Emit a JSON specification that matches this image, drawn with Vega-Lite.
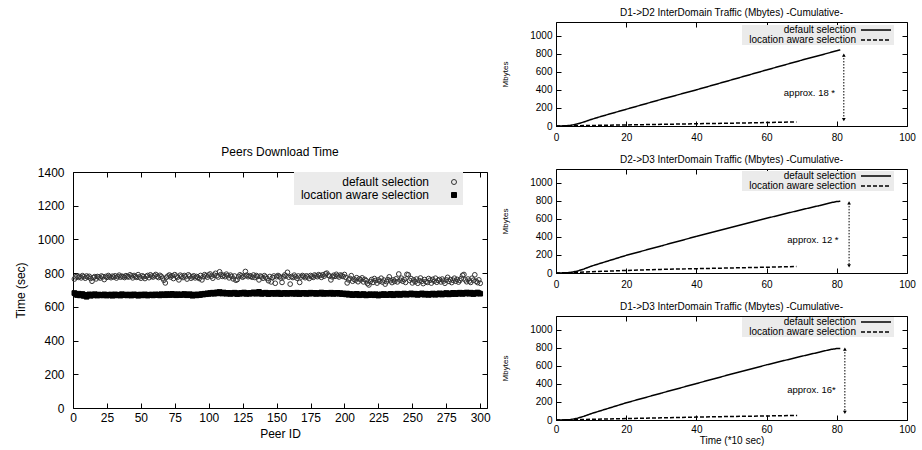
{
"$schema": "https://vega.github.io/schema/vega-lite/v6.json",
"background": "white",
"padding": {"left": 13, "top": 7, "right": 4, "bottom": 2},
"config": {
  "font": "Liberation Sans",
  "view": {"stroke": "#000", "strokeWidth": 1},
  "axis": {"domain": false, "grid": false, "tickSize": -5, "tickColor": "#000", "labelColor": "#000", "titleColor": "#000", "titleFontWeight": "normal", "labelFlush": false, "labelOverlap": false, "labelFont": "Liberation Sans", "titleFont": "Liberation Sans", "format": "d"},
  "title": {"fontWeight": "normal", "color": "#000", "font": "Liberation Sans"},
  "legend": {"labelFont": "Liberation Sans", "labelColor": "#000"}
},
"datasets": {
"peers": [
{"peer":1,"sel":"default selection","time":765},{"peer":2,"sel":"default selection","time":778},{"peer":3,"sel":"default selection","time":782},{"peer":4,"sel":"default selection","time":775},{"peer":5,"sel":"default selection","time":780},{"peer":6,"sel":"default selection","time":772},{"peer":7,"sel":"default selection","time":785},{"peer":8,"sel":"default selection","time":779},{"peer":9,"sel":"default selection","time":770},{"peer":10,"sel":"default selection","time":783},
{"peer":11,"sel":"default selection","time":776},{"peer":12,"sel":"default selection","time":781},{"peer":13,"sel":"default selection","time":768},{"peer":14,"sel":"default selection","time":752},{"peer":15,"sel":"default selection","time":774},{"peer":16,"sel":"default selection","time":779},{"peer":17,"sel":"default selection","time":766},{"peer":18,"sel":"default selection","time":780},{"peer":19,"sel":"default selection","time":777},{"peer":20,"sel":"default selection","time":771},
{"peer":21,"sel":"default selection","time":783},{"peer":22,"sel":"default selection","time":778},{"peer":23,"sel":"default selection","time":762},{"peer":24,"sel":"default selection","time":780},{"peer":25,"sel":"default selection","time":775},{"peer":26,"sel":"default selection","time":786},{"peer":27,"sel":"default selection","time":779},{"peer":28,"sel":"default selection","time":773},{"peer":29,"sel":"default selection","time":782},{"peer":30,"sel":"default selection","time":777},
{"peer":31,"sel":"default selection","time":784},{"peer":32,"sel":"default selection","time":771},{"peer":33,"sel":"default selection","time":780},{"peer":34,"sel":"default selection","time":788},{"peer":35,"sel":"default selection","time":776},{"peer":36,"sel":"default selection","time":782},{"peer":37,"sel":"default selection","time":779},{"peer":38,"sel":"default selection","time":774},{"peer":39,"sel":"default selection","time":785},{"peer":40,"sel":"default selection","time":780},
{"peer":41,"sel":"default selection","time":777},{"peer":42,"sel":"default selection","time":790},{"peer":43,"sel":"default selection","time":783},{"peer":44,"sel":"default selection","time":772},{"peer":45,"sel":"default selection","time":786},{"peer":46,"sel":"default selection","time":780},{"peer":47,"sel":"default selection","time":775},{"peer":48,"sel":"default selection","time":791},{"peer":49,"sel":"default selection","time":778},{"peer":50,"sel":"default selection","time":770},
{"peer":51,"sel":"default selection","time":784},{"peer":52,"sel":"default selection","time":779},{"peer":53,"sel":"default selection","time":768},{"peer":54,"sel":"default selection","time":781},{"peer":55,"sel":"default selection","time":786},{"peer":56,"sel":"default selection","time":773},{"peer":57,"sel":"default selection","time":790},{"peer":58,"sel":"default selection","time":782},{"peer":59,"sel":"default selection","time":777},{"peer":60,"sel":"default selection","time":785},
{"peer":61,"sel":"default selection","time":792},{"peer":62,"sel":"default selection","time":780},{"peer":63,"sel":"default selection","time":774},{"peer":64,"sel":"default selection","time":787},{"peer":65,"sel":"default selection","time":781},{"peer":66,"sel":"default selection","time":770},{"peer":67,"sel":"default selection","time":758},{"peer":68,"sel":"default selection","time":742},{"peer":69,"sel":"default selection","time":776},{"peer":70,"sel":"default selection","time":783},
{"peer":71,"sel":"default selection","time":789},{"peer":72,"sel":"default selection","time":777},{"peer":73,"sel":"default selection","time":785},{"peer":74,"sel":"default selection","time":768},{"peer":75,"sel":"default selection","time":791},{"peer":76,"sel":"default selection","time":782},{"peer":77,"sel":"default selection","time":776},{"peer":78,"sel":"default selection","time":760},{"peer":79,"sel":"default selection","time":788},{"peer":80,"sel":"default selection","time":781},
{"peer":81,"sel":"default selection","time":774},{"peer":82,"sel":"default selection","time":786},{"peer":83,"sel":"default selection","time":779},{"peer":84,"sel":"default selection","time":765},{"peer":85,"sel":"default selection","time":790},{"peer":86,"sel":"default selection","time":783},{"peer":87,"sel":"default selection","time":770},{"peer":88,"sel":"default selection","time":778},{"peer":89,"sel":"default selection","time":784},{"peer":90,"sel":"default selection","time":772},
{"peer":91,"sel":"default selection","time":780},{"peer":92,"sel":"default selection","time":775},{"peer":93,"sel":"default selection","time":768},{"peer":94,"sel":"default selection","time":786},{"peer":95,"sel":"default selection","time":760},{"peer":96,"sel":"default selection","time":779},{"peer":97,"sel":"default selection","time":791},{"peer":98,"sel":"default selection","time":784},{"peer":99,"sel":"default selection","time":776},{"peer":100,"sel":"default selection","time":789},
{"peer":101,"sel":"default selection","time":795},{"peer":102,"sel":"default selection","time":782},{"peer":103,"sel":"default selection","time":770},{"peer":104,"sel":"default selection","time":788},{"peer":105,"sel":"default selection","time":799},{"peer":106,"sel":"default selection","time":785},{"peer":107,"sel":"default selection","time":777},{"peer":108,"sel":"default selection","time":808},{"peer":109,"sel":"default selection","time":792},{"peer":110,"sel":"default selection","time":781},
{"peer":111,"sel":"default selection","time":787},{"peer":112,"sel":"default selection","time":779},{"peer":113,"sel":"default selection","time":794},{"peer":114,"sel":"default selection","time":785},{"peer":115,"sel":"default selection","time":772},{"peer":116,"sel":"default selection","time":788},{"peer":117,"sel":"default selection","time":780},{"peer":118,"sel":"default selection","time":766},{"peer":119,"sel":"default selection","time":783},{"peer":120,"sel":"default selection","time":758},
{"peer":121,"sel":"default selection","time":762},{"peer":122,"sel":"default selection","time":779},{"peer":123,"sel":"default selection","time":790},{"peer":124,"sel":"default selection","time":784},{"peer":125,"sel":"default selection","time":776},{"peer":126,"sel":"default selection","time":782},{"peer":127,"sel":"default selection","time":810},{"peer":128,"sel":"default selection","time":788},{"peer":129,"sel":"default selection","time":779},{"peer":130,"sel":"default selection","time":785},
{"peer":131,"sel":"default selection","time":781},{"peer":132,"sel":"default selection","time":776},{"peer":133,"sel":"default selection","time":789},{"peer":134,"sel":"default selection","time":774},{"peer":135,"sel":"default selection","time":786},{"peer":136,"sel":"default selection","time":780},{"peer":137,"sel":"default selection","time":760},{"peer":138,"sel":"default selection","time":783},{"peer":139,"sel":"default selection","time":778},{"peer":140,"sel":"default selection","time":770},
{"peer":141,"sel":"default selection","time":785},{"peer":142,"sel":"default selection","time":777},{"peer":143,"sel":"default selection","time":768},{"peer":144,"sel":"default selection","time":755},{"peer":145,"sel":"default selection","time":780},{"peer":146,"sel":"default selection","time":748},{"peer":147,"sel":"default selection","time":774},{"peer":148,"sel":"default selection","time":783},{"peer":149,"sel":"default selection","time":740},{"peer":150,"sel":"default selection","time":779},
{"peer":151,"sel":"default selection","time":786},{"peer":152,"sel":"default selection","time":781},{"peer":153,"sel":"default selection","time":772},{"peer":154,"sel":"default selection","time":745},{"peer":155,"sel":"default selection","time":778},{"peer":156,"sel":"default selection","time":789},{"peer":157,"sel":"default selection","time":783},{"peer":158,"sel":"default selection","time":805},{"peer":159,"sel":"default selection","time":776},{"peer":160,"sel":"default selection","time":735},
{"peer":161,"sel":"default selection","time":780},{"peer":162,"sel":"default selection","time":774},{"peer":163,"sel":"default selection","time":788},{"peer":164,"sel":"default selection","time":779},{"peer":165,"sel":"default selection","time":770},{"peer":166,"sel":"default selection","time":783},{"peer":167,"sel":"default selection","time":745},{"peer":168,"sel":"default selection","time":777},{"peer":169,"sel":"default selection","time":786},{"peer":170,"sel":"default selection","time":781},
{"peer":171,"sel":"default selection","time":773},{"peer":172,"sel":"default selection","time":784},{"peer":173,"sel":"default selection","time":778},{"peer":174,"sel":"default selection","time":768},{"peer":175,"sel":"default selection","time":786},{"peer":176,"sel":"default selection","time":780},{"peer":177,"sel":"default selection","time":775},{"peer":178,"sel":"default selection","time":789},{"peer":179,"sel":"default selection","time":784},{"peer":180,"sel":"default selection","time":779},
{"peer":181,"sel":"default selection","time":791},{"peer":182,"sel":"default selection","time":786},{"peer":183,"sel":"default selection","time":775},{"peer":184,"sel":"default selection","time":790},{"peer":185,"sel":"default selection","time":782},{"peer":186,"sel":"default selection","time":796},{"peer":187,"sel":"default selection","time":800},{"peer":188,"sel":"default selection","time":788},{"peer":189,"sel":"default selection","time":783},{"peer":190,"sel":"default selection","time":760},
{"peer":191,"sel":"default selection","time":778},{"peer":192,"sel":"default selection","time":787},{"peer":193,"sel":"default selection","time":781},{"peer":194,"sel":"default selection","time":793},{"peer":195,"sel":"default selection","time":784},{"peer":196,"sel":"default selection","time":777},{"peer":197,"sel":"default selection","time":789},{"peer":198,"sel":"default selection","time":785},{"peer":199,"sel":"default selection","time":780},{"peer":200,"sel":"default selection","time":792},
{"peer":201,"sel":"default selection","time":775},{"peer":202,"sel":"default selection","time":742},{"peer":203,"sel":"default selection","time":760},{"peer":204,"sel":"default selection","time":769},{"peer":205,"sel":"default selection","time":785},{"peer":206,"sel":"default selection","time":752},{"peer":207,"sel":"default selection","time":764},{"peer":208,"sel":"default selection","time":758},{"peer":209,"sel":"default selection","time":773},{"peer":210,"sel":"default selection","time":749},
{"peer":211,"sel":"default selection","time":766},{"peer":212,"sel":"default selection","time":760},{"peer":213,"sel":"default selection","time":772},{"peer":214,"sel":"default selection","time":748},{"peer":215,"sel":"default selection","time":763},{"peer":216,"sel":"default selection","time":755},{"peer":217,"sel":"default selection","time":738},{"peer":218,"sel":"default selection","time":730},{"peer":219,"sel":"default selection","time":750},{"peer":220,"sel":"default selection","time":762},
{"peer":221,"sel":"default selection","time":745},{"peer":222,"sel":"default selection","time":768},{"peer":223,"sel":"default selection","time":756},{"peer":224,"sel":"default selection","time":741},{"peer":225,"sel":"default selection","time":760},{"peer":226,"sel":"default selection","time":752},{"peer":227,"sel":"default selection","time":770},{"peer":228,"sel":"default selection","time":747},{"peer":229,"sel":"default selection","time":759},{"peer":230,"sel":"default selection","time":735},
{"peer":231,"sel":"default selection","time":750},{"peer":232,"sel":"default selection","time":762},{"peer":233,"sel":"default selection","time":778},{"peer":234,"sel":"default selection","time":755},{"peer":235,"sel":"default selection","time":744},{"peer":236,"sel":"default selection","time":760},{"peer":237,"sel":"default selection","time":751},{"peer":238,"sel":"default selection","time":766},{"peer":239,"sel":"default selection","time":748},{"peer":240,"sel":"default selection","time":795},
{"peer":241,"sel":"default selection","time":758},{"peer":242,"sel":"default selection","time":770},{"peer":243,"sel":"default selection","time":752},{"peer":244,"sel":"default selection","time":762},{"peer":245,"sel":"default selection","time":745},{"peer":246,"sel":"default selection","time":793},{"peer":247,"sel":"default selection","time":790},{"peer":248,"sel":"default selection","time":757},{"peer":249,"sel":"default selection","time":768},{"peer":250,"sel":"default selection","time":742},
{"peer":251,"sel":"default selection","time":760},{"peer":252,"sel":"default selection","time":749},{"peer":253,"sel":"default selection","time":765},{"peer":254,"sel":"default selection","time":740},{"peer":255,"sel":"default selection","time":756},{"peer":256,"sel":"default selection","time":771},{"peer":257,"sel":"default selection","time":752},{"peer":258,"sel":"default selection","time":738},{"peer":259,"sel":"default selection","time":762},{"peer":260,"sel":"default selection","time":750},
{"peer":261,"sel":"default selection","time":745},{"peer":262,"sel":"default selection","time":768},{"peer":263,"sel":"default selection","time":758},{"peer":264,"sel":"default selection","time":741},{"peer":265,"sel":"default selection","time":763},{"peer":266,"sel":"default selection","time":752},{"peer":267,"sel":"default selection","time":770},{"peer":268,"sel":"default selection","time":746},{"peer":269,"sel":"default selection","time":757},{"peer":270,"sel":"default selection","time":762},
{"peer":271,"sel":"default selection","time":748},{"peer":272,"sel":"default selection","time":765},{"peer":273,"sel":"default selection","time":753},{"peer":274,"sel":"default selection","time":740},{"peer":275,"sel":"default selection","time":760},{"peer":276,"sel":"default selection","time":775},{"peer":277,"sel":"default selection","time":751},{"peer":278,"sel":"default selection","time":762},{"peer":279,"sel":"default selection","time":744},{"peer":280,"sel":"default selection","time":758},
{"peer":281,"sel":"default selection","time":770},{"peer":282,"sel":"default selection","time":752},{"peer":283,"sel":"default selection","time":763},{"peer":284,"sel":"default selection","time":747},{"peer":285,"sel":"default selection","time":757},{"peer":286,"sel":"default selection","time":768},{"peer":287,"sel":"default selection","time":787},{"peer":288,"sel":"default selection","time":792},{"peer":289,"sel":"default selection","time":760},{"peer":290,"sel":"default selection","time":749},
{"peer":291,"sel":"default selection","time":765},{"peer":292,"sel":"default selection","time":753},{"peer":293,"sel":"default selection","time":745},{"peer":294,"sel":"default selection","time":770},{"peer":295,"sel":"default selection","time":758},{"peer":296,"sel":"default selection","time":790},{"peer":297,"sel":"default selection","time":752},{"peer":298,"sel":"default selection","time":744},{"peer":299,"sel":"default selection","time":760},{"peer":300,"sel":"default selection","time":740},
{"peer":1,"sel":"location aware selection","time":682},{"peer":2,"sel":"location aware selection","time":675},{"peer":3,"sel":"location aware selection","time":670},{"peer":4,"sel":"location aware selection","time":678},{"peer":5,"sel":"location aware selection","time":668},{"peer":6,"sel":"location aware selection","time":673},{"peer":7,"sel":"location aware selection","time":676},{"peer":8,"sel":"location aware selection","time":665},{"peer":9,"sel":"location aware selection","time":671},{"peer":10,"sel":"location aware selection","time":660},
{"peer":11,"sel":"location aware selection","time":670},{"peer":12,"sel":"location aware selection","time":674},{"peer":13,"sel":"location aware selection","time":666},{"peer":14,"sel":"location aware selection","time":672},{"peer":15,"sel":"location aware selection","time":668},{"peer":16,"sel":"location aware selection","time":675},{"peer":17,"sel":"location aware selection","time":670},{"peer":18,"sel":"location aware selection","time":667},{"peer":19,"sel":"location aware selection","time":673},{"peer":20,"sel":"location aware selection","time":669},
{"peer":21,"sel":"location aware selection","time":671},{"peer":22,"sel":"location aware selection","time":668},{"peer":23,"sel":"location aware selection","time":674},{"peer":24,"sel":"location aware selection","time":670},{"peer":25,"sel":"location aware selection","time":667},{"peer":26,"sel":"location aware selection","time":672},{"peer":27,"sel":"location aware selection","time":669},{"peer":28,"sel":"location aware selection","time":673},{"peer":29,"sel":"location aware selection","time":666},{"peer":30,"sel":"location aware selection","time":671},
{"peer":31,"sel":"location aware selection","time":674},{"peer":32,"sel":"location aware selection","time":668},{"peer":33,"sel":"location aware selection","time":670},{"peer":34,"sel":"location aware selection","time":672},{"peer":35,"sel":"location aware selection","time":667},{"peer":36,"sel":"location aware selection","time":675},{"peer":37,"sel":"location aware selection","time":669},{"peer":38,"sel":"location aware selection","time":671},{"peer":39,"sel":"location aware selection","time":673},{"peer":40,"sel":"location aware selection","time":668},
{"peer":41,"sel":"location aware selection","time":670},{"peer":42,"sel":"location aware selection","time":673},{"peer":43,"sel":"location aware selection","time":667},{"peer":44,"sel":"location aware selection","time":671},{"peer":45,"sel":"location aware selection","time":674},{"peer":46,"sel":"location aware selection","time":669},{"peer":47,"sel":"location aware selection","time":672},{"peer":48,"sel":"location aware selection","time":666},{"peer":49,"sel":"location aware selection","time":670},{"peer":50,"sel":"location aware selection","time":673},
{"peer":51,"sel":"location aware selection","time":668},{"peer":52,"sel":"location aware selection","time":671},{"peer":53,"sel":"location aware selection","time":674},{"peer":54,"sel":"location aware selection","time":669},{"peer":55,"sel":"location aware selection","time":667},{"peer":56,"sel":"location aware selection","time":672},{"peer":57,"sel":"location aware selection","time":670},{"peer":58,"sel":"location aware selection","time":673},{"peer":59,"sel":"location aware selection","time":668},{"peer":60,"sel":"location aware selection","time":671},
{"peer":61,"sel":"location aware selection","time":674},{"peer":62,"sel":"location aware selection","time":670},{"peer":63,"sel":"location aware selection","time":672},{"peer":64,"sel":"location aware selection","time":668},{"peer":65,"sel":"location aware selection","time":675},{"peer":66,"sel":"location aware selection","time":671},{"peer":67,"sel":"location aware selection","time":673},{"peer":68,"sel":"location aware selection","time":669},{"peer":69,"sel":"location aware selection","time":676},{"peer":70,"sel":"location aware selection","time":672},
{"peer":71,"sel":"location aware selection","time":670},{"peer":72,"sel":"location aware selection","time":674},{"peer":73,"sel":"location aware selection","time":677},{"peer":74,"sel":"location aware selection","time":671},{"peer":75,"sel":"location aware selection","time":673},{"peer":76,"sel":"location aware selection","time":669},{"peer":77,"sel":"location aware selection","time":675},{"peer":78,"sel":"location aware selection","time":672},{"peer":79,"sel":"location aware selection","time":670},{"peer":80,"sel":"location aware selection","time":674},
{"peer":81,"sel":"location aware selection","time":671},{"peer":82,"sel":"location aware selection","time":676},{"peer":83,"sel":"location aware selection","time":673},{"peer":84,"sel":"location aware selection","time":669},{"peer":85,"sel":"location aware selection","time":672},{"peer":86,"sel":"location aware selection","time":675},{"peer":87,"sel":"location aware selection","time":670},{"peer":88,"sel":"location aware selection","time":666},{"peer":89,"sel":"location aware selection","time":673},{"peer":90,"sel":"location aware selection","time":671},
{"peer":91,"sel":"location aware selection","time":668},{"peer":92,"sel":"location aware selection","time":674},{"peer":93,"sel":"location aware selection","time":670},{"peer":94,"sel":"location aware selection","time":672},{"peer":95,"sel":"location aware selection","time":676},{"peer":96,"sel":"location aware selection","time":673},{"peer":97,"sel":"location aware selection","time":678},{"peer":98,"sel":"location aware selection","time":675},{"peer":99,"sel":"location aware selection","time":680},{"peer":100,"sel":"location aware selection","time":677},
{"peer":101,"sel":"location aware selection","time":682},{"peer":102,"sel":"location aware selection","time":679},{"peer":103,"sel":"location aware selection","time":684},{"peer":104,"sel":"location aware selection","time":678},{"peer":105,"sel":"location aware selection","time":681},{"peer":106,"sel":"location aware selection","time":686},{"peer":107,"sel":"location aware selection","time":680},{"peer":108,"sel":"location aware selection","time":688},{"peer":109,"sel":"location aware selection","time":683},{"peer":110,"sel":"location aware selection","time":679},
{"peer":111,"sel":"location aware selection","time":685},{"peer":112,"sel":"location aware selection","time":681},{"peer":113,"sel":"location aware selection","time":678},{"peer":114,"sel":"location aware selection","time":683},{"peer":115,"sel":"location aware selection","time":680},{"peer":116,"sel":"location aware selection","time":677},{"peer":117,"sel":"location aware selection","time":682},{"peer":118,"sel":"location aware selection","time":679},{"peer":119,"sel":"location aware selection","time":684},{"peer":120,"sel":"location aware selection","time":680},
{"peer":121,"sel":"location aware selection","time":676},{"peer":122,"sel":"location aware selection","time":681},{"peer":123,"sel":"location aware selection","time":678},{"peer":124,"sel":"location aware selection","time":683},{"peer":125,"sel":"location aware selection","time":679},{"peer":126,"sel":"location aware selection","time":685},{"peer":127,"sel":"location aware selection","time":680},{"peer":128,"sel":"location aware selection","time":677},{"peer":129,"sel":"location aware selection","time":682},{"peer":130,"sel":"location aware selection","time":678},
{"peer":131,"sel":"location aware selection","time":683},{"peer":132,"sel":"location aware selection","time":679},{"peer":133,"sel":"location aware selection","time":686},{"peer":134,"sel":"location aware selection","time":681},{"peer":135,"sel":"location aware selection","time":678},{"peer":136,"sel":"location aware selection","time":684},{"peer":137,"sel":"location aware selection","time":689},{"peer":138,"sel":"location aware selection","time":680},{"peer":139,"sel":"location aware selection","time":677},{"peer":140,"sel":"location aware selection","time":682},
{"peer":141,"sel":"location aware selection","time":679},{"peer":142,"sel":"location aware selection","time":684},{"peer":143,"sel":"location aware selection","time":680},{"peer":144,"sel":"location aware selection","time":676},{"peer":145,"sel":"location aware selection","time":682},{"peer":146,"sel":"location aware selection","time":678},{"peer":147,"sel":"location aware selection","time":683},{"peer":148,"sel":"location aware selection","time":680},{"peer":149,"sel":"location aware selection","time":677},{"peer":150,"sel":"location aware selection","time":681},
{"peer":151,"sel":"location aware selection","time":684},{"peer":152,"sel":"location aware selection","time":679},{"peer":153,"sel":"location aware selection","time":676},{"peer":154,"sel":"location aware selection","time":681},{"peer":155,"sel":"location aware selection","time":678},{"peer":156,"sel":"location aware selection","time":683},{"peer":157,"sel":"location aware selection","time":680},{"peer":158,"sel":"location aware selection","time":677},{"peer":159,"sel":"location aware selection","time":682},{"peer":160,"sel":"location aware selection","time":679},
{"peer":161,"sel":"location aware selection","time":683},{"peer":162,"sel":"location aware selection","time":678},{"peer":163,"sel":"location aware selection","time":681},{"peer":164,"sel":"location aware selection","time":677},{"peer":165,"sel":"location aware selection","time":684},{"peer":166,"sel":"location aware selection","time":680},{"peer":167,"sel":"location aware selection","time":676},{"peer":168,"sel":"location aware selection","time":682},{"peer":169,"sel":"location aware selection","time":679},{"peer":170,"sel":"location aware selection","time":683},
{"peer":171,"sel":"location aware selection","time":680},{"peer":172,"sel":"location aware selection","time":677},{"peer":173,"sel":"location aware selection","time":682},{"peer":174,"sel":"location aware selection","time":678},{"peer":175,"sel":"location aware selection","time":684},{"peer":176,"sel":"location aware selection","time":681},{"peer":177,"sel":"location aware selection","time":679},{"peer":178,"sel":"location aware selection","time":683},{"peer":179,"sel":"location aware selection","time":677},{"peer":180,"sel":"location aware selection","time":680},
{"peer":181,"sel":"location aware selection","time":682},{"peer":182,"sel":"location aware selection","time":678},{"peer":183,"sel":"location aware selection","time":685},{"peer":184,"sel":"location aware selection","time":680},{"peer":185,"sel":"location aware selection","time":677},{"peer":186,"sel":"location aware selection","time":683},{"peer":187,"sel":"location aware selection","time":679},{"peer":188,"sel":"location aware selection","time":681},{"peer":189,"sel":"location aware selection","time":678},{"peer":190,"sel":"location aware selection","time":684},
{"peer":191,"sel":"location aware selection","time":680},{"peer":192,"sel":"location aware selection","time":677},{"peer":193,"sel":"location aware selection","time":682},{"peer":194,"sel":"location aware selection","time":679},{"peer":195,"sel":"location aware selection","time":683},{"peer":196,"sel":"location aware selection","time":678},{"peer":197,"sel":"location aware selection","time":681},{"peer":198,"sel":"location aware selection","time":676},{"peer":199,"sel":"location aware selection","time":680},{"peer":200,"sel":"location aware selection","time":677},
{"peer":201,"sel":"location aware selection","time":674},{"peer":202,"sel":"location aware selection","time":679},{"peer":203,"sel":"location aware selection","time":672},{"peer":204,"sel":"location aware selection","time":676},{"peer":205,"sel":"location aware selection","time":673},{"peer":206,"sel":"location aware selection","time":670},{"peer":207,"sel":"location aware selection","time":675},{"peer":208,"sel":"location aware selection","time":671},{"peer":209,"sel":"location aware selection","time":677},{"peer":210,"sel":"location aware selection","time":673},
{"peer":211,"sel":"location aware selection","time":669},{"peer":212,"sel":"location aware selection","time":674},{"peer":213,"sel":"location aware selection","time":671},{"peer":214,"sel":"location aware selection","time":676},{"peer":215,"sel":"location aware selection","time":672},{"peer":216,"sel":"location aware selection","time":668},{"peer":217,"sel":"location aware selection","time":673},{"peer":218,"sel":"location aware selection","time":670},{"peer":219,"sel":"location aware selection","time":675},{"peer":220,"sel":"location aware selection","time":671},
{"peer":221,"sel":"location aware selection","time":673},{"peer":222,"sel":"location aware selection","time":669},{"peer":223,"sel":"location aware selection","time":675},{"peer":224,"sel":"location aware selection","time":671},{"peer":225,"sel":"location aware selection","time":667},{"peer":226,"sel":"location aware selection","time":672},{"peer":227,"sel":"location aware selection","time":674},{"peer":228,"sel":"location aware selection","time":670},{"peer":229,"sel":"location aware selection","time":676},{"peer":230,"sel":"location aware selection","time":672},
{"peer":231,"sel":"location aware selection","time":670},{"peer":232,"sel":"location aware selection","time":674},{"peer":233,"sel":"location aware selection","time":671},{"peer":234,"sel":"location aware selection","time":677},{"peer":235,"sel":"location aware selection","time":673},{"peer":236,"sel":"location aware selection","time":669},{"peer":237,"sel":"location aware selection","time":675},{"peer":238,"sel":"location aware selection","time":672},{"peer":239,"sel":"location aware selection","time":678},{"peer":240,"sel":"location aware selection","time":674},
{"peer":241,"sel":"location aware selection","time":671},{"peer":242,"sel":"location aware selection","time":676},{"peer":243,"sel":"location aware selection","time":673},{"peer":244,"sel":"location aware selection","time":679},{"peer":245,"sel":"location aware selection","time":675},{"peer":246,"sel":"location aware selection","time":672},{"peer":247,"sel":"location aware selection","time":677},{"peer":248,"sel":"location aware selection","time":674},{"peer":249,"sel":"location aware selection","time":680},{"peer":250,"sel":"location aware selection","time":676},
{"peer":251,"sel":"location aware selection","time":673},{"peer":252,"sel":"location aware selection","time":678},{"peer":253,"sel":"location aware selection","time":675},{"peer":254,"sel":"location aware selection","time":671},{"peer":255,"sel":"location aware selection","time":677},{"peer":256,"sel":"location aware selection","time":674},{"peer":257,"sel":"location aware selection","time":680},{"peer":258,"sel":"location aware selection","time":676},{"peer":259,"sel":"location aware selection","time":672},{"peer":260,"sel":"location aware selection","time":678},
{"peer":261,"sel":"location aware selection","time":675},{"peer":262,"sel":"location aware selection","time":671},{"peer":263,"sel":"location aware selection","time":677},{"peer":264,"sel":"location aware selection","time":673},{"peer":265,"sel":"location aware selection","time":679},{"peer":266,"sel":"location aware selection","time":675},{"peer":267,"sel":"location aware selection","time":672},{"peer":268,"sel":"location aware selection","time":678},{"peer":269,"sel":"location aware selection","time":674},{"peer":270,"sel":"location aware selection","time":680},
{"peer":271,"sel":"location aware selection","time":676},{"peer":272,"sel":"location aware selection","time":673},{"peer":273,"sel":"location aware selection","time":679},{"peer":274,"sel":"location aware selection","time":675},{"peer":275,"sel":"location aware selection","time":682},{"peer":276,"sel":"location aware selection","time":677},{"peer":277,"sel":"location aware selection","time":674},{"peer":278,"sel":"location aware selection","time":680},{"peer":279,"sel":"location aware selection","time":676},{"peer":280,"sel":"location aware selection","time":683},
{"peer":281,"sel":"location aware selection","time":679},{"peer":282,"sel":"location aware selection","time":676},{"peer":283,"sel":"location aware selection","time":682},{"peer":284,"sel":"location aware selection","time":678},{"peer":285,"sel":"location aware selection","time":684},{"peer":286,"sel":"location aware selection","time":680},{"peer":287,"sel":"location aware selection","time":677},{"peer":288,"sel":"location aware selection","time":683},{"peer":289,"sel":"location aware selection","time":679},{"peer":290,"sel":"location aware selection","time":685},
{"peer":291,"sel":"location aware selection","time":681},{"peer":292,"sel":"location aware selection","time":678},{"peer":293,"sel":"location aware selection","time":684},{"peer":294,"sel":"location aware selection","time":680},{"peer":295,"sel":"location aware selection","time":676},{"peer":296,"sel":"location aware selection","time":682},{"peer":297,"sel":"location aware selection","time":679},{"peer":298,"sel":"location aware selection","time":685},{"peer":299,"sel":"location aware selection","time":681},{"peer":300,"sel":"location aware selection","time":678}
],
"traffic": [
{"panel":"D1->D2","sel":"default selection","t":0,"mb":0},{"panel":"D1->D2","sel":"default selection","t":2,"mb":1},{"panel":"D1->D2","sel":"default selection","t":4,"mb":6},{"panel":"D1->D2","sel":"default selection","t":6,"mb":22},{"panel":"D1->D2","sel":"default selection","t":8,"mb":45},{"panel":"D1->D2","sel":"default selection","t":10,"mb":72},{"panel":"D1->D2","sel":"default selection","t":12,"mb":96},{"panel":"D1->D2","sel":"default selection","t":15,"mb":130},{"panel":"D1->D2","sel":"default selection","t":20,"mb":185},{"panel":"D1->D2","sel":"default selection","t":30,"mb":295},{"panel":"D1->D2","sel":"default selection","t":40,"mb":400},{"panel":"D1->D2","sel":"default selection","t":50,"mb":510},{"panel":"D1->D2","sel":"default selection","t":60,"mb":620},{"panel":"D1->D2","sel":"default selection","t":70,"mb":728},{"panel":"D1->D2","sel":"default selection","t":80,"mb":832},{"panel":"D1->D2","sel":"default selection","t":81,"mb":842},
{"panel":"D1->D2","sel":"location aware selection","t":0,"mb":0},{"panel":"D1->D2","sel":"location aware selection","t":5,"mb":3},{"panel":"D1->D2","sel":"location aware selection","t":10,"mb":6},{"panel":"D1->D2","sel":"location aware selection","t":20,"mb":12},{"panel":"D1->D2","sel":"location aware selection","t":30,"mb":18},{"panel":"D1->D2","sel":"location aware selection","t":40,"mb":25},{"panel":"D1->D2","sel":"location aware selection","t":50,"mb":31},{"panel":"D1->D2","sel":"location aware selection","t":60,"mb":38},{"panel":"D1->D2","sel":"location aware selection","t":68.5,"mb":45},
{"panel":"D2->D3","sel":"default selection","t":0,"mb":0},{"panel":"D2->D3","sel":"default selection","t":2,"mb":0},{"panel":"D2->D3","sel":"default selection","t":4,"mb":5},{"panel":"D2->D3","sel":"default selection","t":6,"mb":20},{"panel":"D2->D3","sel":"default selection","t":8,"mb":45},{"panel":"D2->D3","sel":"default selection","t":10,"mb":75},{"panel":"D2->D3","sel":"default selection","t":15,"mb":135},{"panel":"D2->D3","sel":"default selection","t":20,"mb":195},{"panel":"D2->D3","sel":"default selection","t":30,"mb":300},{"panel":"D2->D3","sel":"default selection","t":40,"mb":405},{"panel":"D2->D3","sel":"default selection","t":50,"mb":505},{"panel":"D2->D3","sel":"default selection","t":60,"mb":605},{"panel":"D2->D3","sel":"default selection","t":70,"mb":700},{"panel":"D2->D3","sel":"default selection","t":75,"mb":745},{"panel":"D2->D3","sel":"default selection","t":78,"mb":775},{"panel":"D2->D3","sel":"default selection","t":80,"mb":790},{"panel":"D2->D3","sel":"default selection","t":81,"mb":793},
{"panel":"D2->D3","sel":"location aware selection","t":0,"mb":0},{"panel":"D2->D3","sel":"location aware selection","t":5,"mb":6},{"panel":"D2->D3","sel":"location aware selection","t":10,"mb":14},{"panel":"D2->D3","sel":"location aware selection","t":20,"mb":28},{"panel":"D2->D3","sel":"location aware selection","t":30,"mb":40},{"panel":"D2->D3","sel":"location aware selection","t":40,"mb":48},{"panel":"D2->D3","sel":"location aware selection","t":50,"mb":56},{"panel":"D2->D3","sel":"location aware selection","t":60,"mb":64},{"panel":"D2->D3","sel":"location aware selection","t":68.5,"mb":72},
{"panel":"D1->D3","sel":"default selection","t":0,"mb":0},{"panel":"D1->D3","sel":"default selection","t":2,"mb":0},{"panel":"D1->D3","sel":"default selection","t":4,"mb":4},{"panel":"D1->D3","sel":"default selection","t":6,"mb":18},{"panel":"D1->D3","sel":"default selection","t":8,"mb":42},{"panel":"D1->D3","sel":"default selection","t":10,"mb":70},{"panel":"D1->D3","sel":"default selection","t":15,"mb":130},{"panel":"D1->D3","sel":"default selection","t":20,"mb":190},{"panel":"D1->D3","sel":"default selection","t":30,"mb":297},{"panel":"D1->D3","sel":"default selection","t":40,"mb":403},{"panel":"D1->D3","sel":"default selection","t":50,"mb":508},{"panel":"D1->D3","sel":"default selection","t":60,"mb":610},{"panel":"D1->D3","sel":"default selection","t":70,"mb":705},{"panel":"D1->D3","sel":"default selection","t":75,"mb":750},{"panel":"D1->D3","sel":"default selection","t":78,"mb":778},{"panel":"D1->D3","sel":"default selection","t":80,"mb":790},{"panel":"D1->D3","sel":"default selection","t":81,"mb":792},
{"panel":"D1->D3","sel":"location aware selection","t":0,"mb":0},{"panel":"D1->D3","sel":"location aware selection","t":10,"mb":8},{"panel":"D1->D3","sel":"location aware selection","t":20,"mb":16},{"panel":"D1->D3","sel":"location aware selection","t":30,"mb":24},{"panel":"D1->D3","sel":"location aware selection","t":40,"mb":32},{"panel":"D1->D3","sel":"location aware selection","t":50,"mb":39},{"panel":"D1->D3","sel":"location aware selection","t":60,"mb":45},{"panel":"D1->D3","sel":"location aware selection","t":68.7,"mb":50}
],
"notes": [
{"panel":"D1->D2","x":82,"top":785,"bottom":70,"label":"approx. 18 *","lx":79.5,"ly":360},
{"panel":"D2->D3","x":83.5,"top":775,"bottom":80,"label":"approx. 12 *","lx":80.5,"ly":365},
{"panel":"D1->D3","x":82.3,"top":785,"bottom":85,"label":"approx. 16*","lx":79.7,"ly":330}
]
},
"spacing": 10,
"resolve": {"scale": {"shape": "independent", "fill": "independent", "stroke": "independent", "strokeDash": "independent"}, "legend": {"shape": "independent", "fill": "independent", "stroke": "independent", "strokeDash": "independent"}},
"hconcat": [
{
 "spacing": 0,
 "resolve": {"scale": {"shape": "independent", "fill": "independent", "stroke": "independent"}, "legend": {"shape": "independent", "fill": "independent", "stroke": "independent"}},
 "vconcat": [
  {"width": 414, "height": 123, "data": {"values": []}, "mark": "point", "view": {"stroke": null}},
  {
   "title": {"text": "Peers Download Time", "fontSize": 12, "offset": 7},
   "width": 414, "height": 236,
   "data": {"name": "peers"},
   "layer": [
    {"mark": {"type": "point", "size": 22, "strokeWidth": 1, "opacity": 1},
     "encoding": {
      "x": {"field": "peer", "type": "quantitative", "scale": {"domain": [0, 305], "nice": false}, "axis": {"orient": "bottom", "values": [0,25,50,75,100,125,150,175,200,225,250,275,300], "title": "Peer ID", "labelFontSize": 12, "titleFontSize": 12, "labelPadding": 9, "titlePadding": 5}},
      "y": {"field": "time", "type": "quantitative", "scale": {"domain": [0, 1400], "nice": false}, "axis": {"orient": "left", "values": [0,200,400,600,800,1000,1200,1400], "title": "Time (sec)", "labelFontSize": 12, "titleFontSize": 12, "labelPadding": 14, "titlePadding": 10}},
      "shape": {"field": "sel", "type": "nominal", "scale": {"domain": ["default selection", "location aware selection"], "range": ["circle", "square"]},
        "legend": {"title": null, "orient": "none", "legendX": 221, "legendY": 0, "fillColor": "#ebebeb", "padding": 4, "labelFontSize": 12, "labelAlign": "right", "labelOffset": -31, "symbolOffset": 150, "symbolSize": 25, "symbolStrokeWidth": 1, "rowPadding": 1}},
      "fill": {"field": "sel", "type": "nominal", "scale": {"domain": ["default selection", "location aware selection"], "range": ["transparent", "#000"]}},
      "stroke": {"field": "sel", "type": "nominal", "scale": {"domain": ["default selection", "location aware selection"], "range": ["#333", "#000"]}}
     }},
    {"mark": {"type": "point", "opacity": 0},
     "encoding": {
      "x": {"field": "peer", "type": "quantitative", "axis": {"orient": "top", "values": [0,25,50,75,100,125,150,175,200,225,250,275,300], "labels": false, "title": null}},
      "y": {"field": "time", "type": "quantitative", "axis": {"orient": "right", "values": [0,200,400,600,800,1000,1200,1400], "labels": false, "title": null}}
     }}
   ],
   "resolve": {"axis": {"x": "independent", "y": "independent"}}
  }
 ]
},
{
 "spacing": 11,
 "resolve": {"scale": {"strokeDash": "independent"}, "legend": {"strokeDash": "independent"}},
 "vconcat": [
  {
   "title": {"text": "D1->D2 InterDomain Traffic (Mbytes) -Cumulative-", "fontSize": 10, "offset": 4},
   "width": 351, "height": 104,
   "data": {"name": "traffic"},
   "transform": [{"filter": "datum.panel == 'D1->D2'"}],
   "layer": [
    {"mark": {"type": "line", "color": "#000", "strokeWidth": 1.5},
     "encoding": {
      "x": {"field": "t", "type": "quantitative", "scale": {"domain": [0, 100], "nice": false}, "axis": {"orient": "bottom", "values": [0,20,40,60,80,100], "title": null, "labelFontSize": 10, "labelPadding": 11}},
      "y": {"field": "mb", "type": "quantitative", "scale": {"domain": [0, 1150], "nice": false}, "axis": {"orient": "left", "values": [0,200,400,600,800,1000], "title": "Mbytes", "labelFontSize": 10, "labelPadding": 9, "titleFontSize": 8, "titlePadding": 20}},
      "strokeDash": {"field": "sel", "type": "nominal", "scale": {"domain": ["default selection", "location aware selection"], "range": [[1, 0], [4, 2]]},
        "legend": {"title": null, "orient": "none", "legendX": 186, "legendY": 3, "fillColor": "#ebebeb", "padding": 0, "labelFontSize": 10, "labelAlign": "right", "labelOffset": -25, "symbolOffset": 129, "symbolType": "M-3.75,0H3.75", "symbolSize": 64, "symbolStrokeWidth": 1.5, "symbolStrokeColor": "#000", "rowPadding": 0}}
     }},
    {"mark": {"type": "point", "opacity": 0},
     "encoding": {
      "x": {"field": "t", "type": "quantitative", "axis": {"orient": "top", "values": [0,20,40,60,80,100], "labels": false, "title": null}},
      "y": {"field": "mb", "type": "quantitative", "axis": {"orient": "right", "values": [0,200,400,600,800,1000], "labels": false, "title": null}}
     }},
    {"data": {"name": "notes"}, "transform": [{"filter": "datum.panel == 'D1->D2'"}],
     "layer": [
      {"mark": {"type": "rule", "color": "#000", "strokeWidth": 1, "strokeDash": [1.5, 1.5]}, "encoding": {"x": {"field": "x", "type": "quantitative", "axis": null}, "y": {"field": "top", "type": "quantitative", "axis": null}, "y2": {"field": "bottom"}}},
      {"mark": {"type": "point", "shape": "triangle-up", "filled": true, "color": "#000", "size": 14, "opacity": 1}, "encoding": {"x": {"field": "x", "type": "quantitative", "axis": null}, "y": {"field": "top", "type": "quantitative", "axis": null}}},
      {"mark": {"type": "point", "shape": "triangle-down", "filled": true, "color": "#000", "size": 14, "opacity": 1}, "encoding": {"x": {"field": "x", "type": "quantitative", "axis": null}, "y": {"field": "bottom", "type": "quantitative", "axis": null}}},
      {"mark": {"type": "text", "align": "right", "baseline": "middle", "fontSize": 9.5, "color": "#000"}, "encoding": {"x": {"field": "lx", "type": "quantitative", "axis": null}, "y": {"field": "ly", "type": "quantitative", "axis": null}, "text": {"field": "label"}}}
     ]}
   ],
   "resolve": {"axis": {"x": "independent", "y": "independent"}}
  },
  {
   "title": {"text": "D2->D3 InterDomain Traffic (Mbytes) -Cumulative-", "fontSize": 10, "offset": 4},
   "width": 351, "height": 104,
   "data": {"name": "traffic"},
   "transform": [{"filter": "datum.panel == 'D2->D3'"}],
   "layer": [
    {"mark": {"type": "line", "color": "#000", "strokeWidth": 1.5},
     "encoding": {
      "x": {"field": "t", "type": "quantitative", "scale": {"domain": [0, 100], "nice": false}, "axis": {"orient": "bottom", "values": [0,20,40,60,80,100], "title": null, "labelFontSize": 10, "labelPadding": 11}},
      "y": {"field": "mb", "type": "quantitative", "scale": {"domain": [0, 1150], "nice": false}, "axis": {"orient": "left", "values": [0,200,400,600,800,1000], "title": "Mbytes", "labelFontSize": 10, "labelPadding": 9, "titleFontSize": 8, "titlePadding": 20}},
      "strokeDash": {"field": "sel", "type": "nominal", "scale": {"domain": ["default selection", "location aware selection"], "range": [[1, 0], [4, 2]]},
        "legend": {"title": null, "orient": "none", "legendX": 186, "legendY": 2, "fillColor": "#ebebeb", "padding": 0, "labelFontSize": 10, "labelAlign": "right", "labelOffset": -25, "symbolOffset": 129, "symbolType": "M-3.75,0H3.75", "symbolSize": 64, "symbolStrokeWidth": 1.5, "symbolStrokeColor": "#000", "rowPadding": 0}}
     }},
    {"mark": {"type": "point", "opacity": 0},
     "encoding": {
      "x": {"field": "t", "type": "quantitative", "axis": {"orient": "top", "values": [0,20,40,60,80,100], "labels": false, "title": null}},
      "y": {"field": "mb", "type": "quantitative", "axis": {"orient": "right", "values": [0,200,400,600,800,1000], "labels": false, "title": null}}
     }},
    {"data": {"name": "notes"}, "transform": [{"filter": "datum.panel == 'D2->D3'"}],
     "layer": [
      {"mark": {"type": "rule", "color": "#000", "strokeWidth": 1, "strokeDash": [1.5, 1.5]}, "encoding": {"x": {"field": "x", "type": "quantitative", "axis": null}, "y": {"field": "top", "type": "quantitative", "axis": null}, "y2": {"field": "bottom"}}},
      {"mark": {"type": "point", "shape": "triangle-up", "filled": true, "color": "#000", "size": 14, "opacity": 1}, "encoding": {"x": {"field": "x", "type": "quantitative", "axis": null}, "y": {"field": "top", "type": "quantitative", "axis": null}}},
      {"mark": {"type": "point", "shape": "triangle-down", "filled": true, "color": "#000", "size": 14, "opacity": 1}, "encoding": {"x": {"field": "x", "type": "quantitative", "axis": null}, "y": {"field": "bottom", "type": "quantitative", "axis": null}}},
      {"mark": {"type": "text", "align": "right", "baseline": "middle", "fontSize": 9.5, "color": "#000"}, "encoding": {"x": {"field": "lx", "type": "quantitative", "axis": null}, "y": {"field": "ly", "type": "quantitative", "axis": null}, "text": {"field": "label"}}}
     ]}
   ],
   "resolve": {"axis": {"x": "independent", "y": "independent"}}
  },
  {
   "title": {"text": "D1->D3 InterDomain Traffic (Mbytes) -Cumulative-", "fontSize": 10, "offset": 4},
   "width": 351, "height": 104,
   "data": {"name": "traffic"},
   "transform": [{"filter": "datum.panel == 'D1->D3'"}],
   "layer": [
    {"mark": {"type": "line", "color": "#000", "strokeWidth": 1.5},
     "encoding": {
      "x": {"field": "t", "type": "quantitative", "scale": {"domain": [0, 100], "nice": false}, "axis": {"orient": "bottom", "values": [0,20,40,60,80,100], "title": "Time (*10 sec)", "labelFontSize": 10, "labelPadding": 9, "titleFontSize": 10, "titlePadding": 1}},
      "y": {"field": "mb", "type": "quantitative", "scale": {"domain": [0, 1150], "nice": false}, "axis": {"orient": "left", "values": [0,200,400,600,800,1000], "title": "Mbytes", "labelFontSize": 10, "labelPadding": 9, "titleFontSize": 8, "titlePadding": 20}},
      "strokeDash": {"field": "sel", "type": "nominal", "scale": {"domain": ["default selection", "location aware selection"], "range": [[1, 0], [4, 2]]},
        "legend": {"title": null, "orient": "none", "legendX": 186, "legendY": 1, "fillColor": "#ebebeb", "padding": 0, "labelFontSize": 10, "labelAlign": "right", "labelOffset": -25, "symbolOffset": 129, "symbolType": "M-3.75,0H3.75", "symbolSize": 64, "symbolStrokeWidth": 1.5, "symbolStrokeColor": "#000", "rowPadding": 0}}
     }},
    {"mark": {"type": "point", "opacity": 0},
     "encoding": {
      "x": {"field": "t", "type": "quantitative", "axis": {"orient": "top", "values": [0,20,40,60,80,100], "labels": false, "title": null}},
      "y": {"field": "mb", "type": "quantitative", "axis": {"orient": "right", "values": [0,200,400,600,800,1000], "labels": false, "title": null}}
     }},
    {"data": {"name": "notes"}, "transform": [{"filter": "datum.panel == 'D1->D3'"}],
     "layer": [
      {"mark": {"type": "rule", "color": "#000", "strokeWidth": 1, "strokeDash": [1.5, 1.5]}, "encoding": {"x": {"field": "x", "type": "quantitative", "axis": null}, "y": {"field": "top", "type": "quantitative", "axis": null}, "y2": {"field": "bottom"}}},
      {"mark": {"type": "point", "shape": "triangle-up", "filled": true, "color": "#000", "size": 14, "opacity": 1}, "encoding": {"x": {"field": "x", "type": "quantitative", "axis": null}, "y": {"field": "top", "type": "quantitative", "axis": null}}},
      {"mark": {"type": "point", "shape": "triangle-down", "filled": true, "color": "#000", "size": 14, "opacity": 1}, "encoding": {"x": {"field": "x", "type": "quantitative", "axis": null}, "y": {"field": "bottom", "type": "quantitative", "axis": null}}},
      {"mark": {"type": "text", "align": "right", "baseline": "middle", "fontSize": 9.5, "color": "#000"}, "encoding": {"x": {"field": "lx", "type": "quantitative", "axis": null}, "y": {"field": "ly", "type": "quantitative", "axis": null}, "text": {"field": "label"}}}
     ]}
   ],
   "resolve": {"axis": {"x": "independent", "y": "independent"}}
  }
 ]
}
]
}
